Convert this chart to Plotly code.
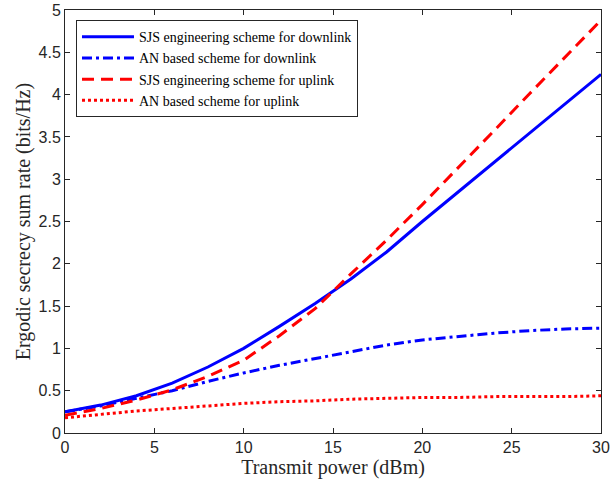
import plotly.graph_objects as go

power_dbm = [0, 2, 4, 6, 8, 10, 12, 14, 16, 18, 20, 22, 24, 26, 28, 30]
sjs_downlink = [0.25, 0.33, 0.44, 0.59, 0.78, 1.00, 1.26, 1.53, 1.82, 2.14, 2.50, 2.85, 3.20, 3.55, 3.90, 4.24]
an_downlink = [0.25, 0.32, 0.41, 0.50, 0.61, 0.71, 0.80, 0.88, 0.96, 1.04, 1.10, 1.14, 1.18, 1.21, 1.23, 1.24]
sjs_uplink = [0.21, 0.29, 0.39, 0.51, 0.67, 0.86, 1.15, 1.47, 1.88, 2.28, 2.70, 3.13, 3.57, 4.01, 4.45, 4.88]
an_uplink = [0.18, 0.22, 0.26, 0.29, 0.32, 0.35, 0.37, 0.38, 0.40, 0.41, 0.42, 0.42, 0.43, 0.43, 0.43, 0.44]

names = [
    "SJS engineering scheme for downlink",
    "AN based scheme for downlink",
    "SJS engineering scheme for uplink",
    "AN based scheme for uplink",
]
series = [sjs_downlink, an_downlink, sjs_uplink, an_uplink]
colors = ["#0000ff", "#0000ff", "#ff0000", "#ff0000"]
dashes = ["solid", "10px,4px,3px,4px", "12px,7px", "3px,3px"]

SERIF = "Liberation Serif"
SANS = "Liberation Sans"

fig = go.Figure()
for n, s, c, d in zip(names, series, colors, dashes):
    fig.add_trace(go.Scatter(x=power_dbm, y=s, mode="lines", name=n,
                             line=dict(color=c, width=3, dash=d)))

axis_common = dict(
    showgrid=False, zeroline=False, showline=True, linecolor="#262626", linewidth=1,
    mirror="allticks", ticks="inside", ticklen=5, tickcolor="#262626",
    automargin=False,
    tickfont=dict(family=SANS, size=16, color="#262626"),
)

fig.update_layout(
    width=610, height=480, autosize=False,
    margin=dict(l=65, r=9, t=10, b=47, autoexpand=False),
    paper_bgcolor="white", plot_bgcolor="white",
    xaxis=dict(range=[0, 30], tickvals=[0, 5, 10, 15, 20, 25, 30],
               title=dict(text="Transmit power (dBm)", standoff=3,
                          font=dict(family=SERIF, size=20, color="#262626")),
               **axis_common),
    yaxis=dict(range=[0, 5], tickvals=[0, 0.5, 1, 1.5, 2, 2.5, 3, 3.5, 4, 4.5, 5],
               ticktext=["0", "0.5", "1", "1.5", "2", "2.5", "3", "3.5", "4", "4.5", "5"],
               title=dict(text="Ergodic secrecy sum rate (bits/Hz)", standoff=2,
                          font=dict(family=SERIF, size=20, color="#262626")),
               **axis_common),
    legend=dict(x=0.0205, y=0.976, xanchor="left", yanchor="top",
                bgcolor="white", bordercolor="#262626", borderwidth=1,
                font=dict(family=SERIF, size=14, color="#000000"),
                tracegroupgap=0, itemwidth=52),
    showlegend=True,
)

fig.write_html("out.html",
               config={"responsive": False, "displayModeBar": False},
               post_script="document.body.style.margin='0';document.body.style.overflow='hidden';")
